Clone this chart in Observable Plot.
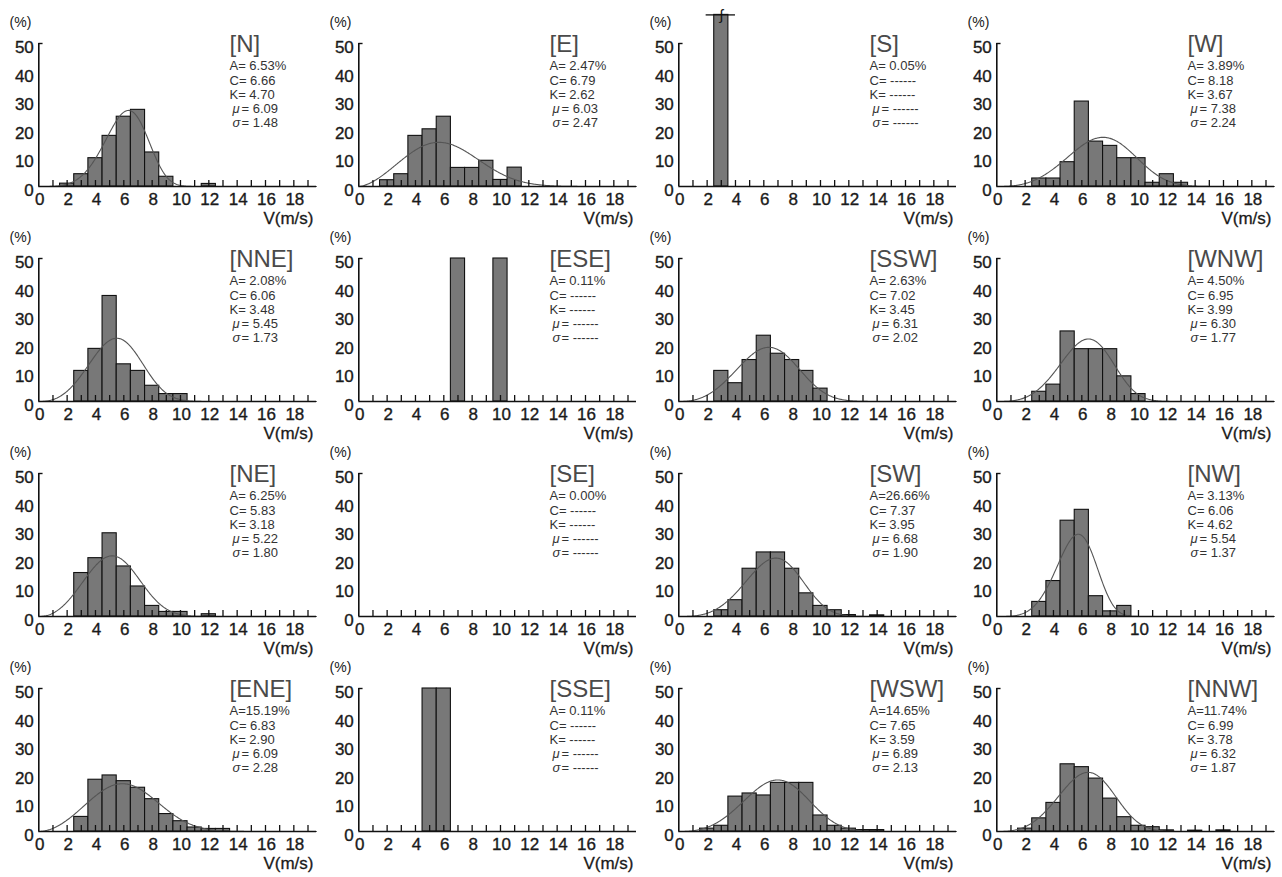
<!DOCTYPE html>
<html>
<head>
<meta charset="utf-8">
<script src="https://cdn.jsdelivr.net/npm/d3@7"></script>
<script src="https://cdn.jsdelivr.net/npm/@observablehq/plot@0.6"></script>
<style>
  html, body { margin: 0; padding: 0; background: #fff; }
  #wrap { position: relative; width: 1282px; height: 877px; overflow: hidden; }
  .panel { position: absolute; }
  .panel svg { overflow: visible; }
</style>
</head>
<body>
<div id="wrap"></div>
<script>
// ---- data (panel order: row by row, left to right) ----
const directions = ["N","E","S","W","NNE","ESE","SSW","WNW","NE","SE","SW","NW","ENE","SSE","WSW","NNW"];
// frequency (%) per 1 m/s bin, bin centres 1,2,3,...
const binCenters = [1,2,3,4,5,6,7,8,9,10,11,12,13,14,15,16,17,18,19];
const freqN   = [0, 1.0, 4.3, 9.9, 17.7, 24.4, 26.8, 11.9, 3.4, 0, 0, 0.9];
const freqE   = [0, 2.2, 4.3, 17.7, 20.0, 24.4, 6.5, 6.5, 9.0, 2.3, 6.6];
const freqS   = [0, 0, 100];
const freqW   = [0, 0, 2.8, 2.8, 8.5, 29.7, 15.7, 14.2, 9.9, 9.9, 1.3, 4.3, 1.3];
const freqNNE = [0, 0, 10.7, 18.4, 36.9, 13.0, 10.7, 5.5, 2.6, 2.6];
const freqESE = [0, 0, 0, 0, 0, 0, 50, 0, 0, 50];
const freqSSW = [0, 0, 10.7, 6.4, 14.5, 23.0, 16.7, 14.5, 10.7, 4.5];
const freqWNW = [0, 0, 3.4, 5.9, 24.5, 18.3, 18.3, 18.3, 8.8, 2.6];
const freqNE  = [0, 0, 15.2, 20.4, 29.1, 17.5, 10.5, 3.7, 1.6, 1.6, 0, 0.8];
const freqSE  = [];
const freqSW  = [0, 0, 2.2, 5.7, 16.7, 22.4, 22.4, 16.7, 8.1, 3.7, 2.2, 0.5, 0, 0.4];
const freqNW  = [0, 0, 5.1, 12.4, 33.5, 37.3, 7.1, 1.8, 3.7];
const freqENE = [0, 0, 5.1, 18.1, 19.6, 17.6, 15.3, 11.3, 6.1, 3.6, 1.4, 0.9, 0.9];
const freqSSE = [0, 0, 0, 0, 50, 50];
const freqWSW = [0, 1.0, 2.0, 12.2, 13.3, 12.6, 17.0, 17.0, 17.0, 5.6, 2.0, 1.0, 0.5, 0.5];
const freqNNW = [0, 1.0, 4.6, 10.0, 23.5, 22.5, 18.5, 11.5, 5.0, 2.0, 1.5, 0.4, 0, 0.3, 0, 0.4];
const freqs = [freqN, freqE, freqS, freqW, freqNNE, freqESE, freqSSW, freqWNW,
               freqNE, freqSE, freqSW, freqNW, freqENE, freqSSE, freqWSW, freqNNW];

// Weibull / statistics labels
const paramA  = ["6.53%","2.47%","0.05%","3.89%","2.08%","0.11%","2.63%","4.50%",
                 "6.25%","0.00%","26.66%","3.13%","15.19%","0.11%","14.65%","11.74%"];
const paramC  = [6.66, 6.79, null, 8.18, 6.06, null, 7.02, 6.95, 5.83, null, 7.37, 6.06, 6.83, null, 7.65, 6.99];
const paramK  = [4.70, 2.62, null, 3.67, 3.48, null, 3.45, 3.99, 3.18, null, 3.95, 4.62, 2.90, null, 3.59, 3.78];
const paramMu = [6.09, 6.03, null, 7.38, 5.45, null, 6.31, 6.30, 5.22, null, 6.68, 5.54, 6.09, null, 6.89, 6.32];
const paramSd = [1.48, 2.47, null, 2.24, 1.73, null, 2.02, 1.77, 1.80, null, 1.90, 1.37, 2.28, null, 2.13, 1.87];

const yTicks = [0, 10, 20, 30, 40, 50];
const xTickLabels = [0, 2, 4, 6, 8, 10, 12, 14, 16, 18];
const xMinorTicks = [1,2,3,4,5,6,7,8,9,10,11,12,13,14,15,16,17,18,19];
const xLabel = "V(m/s)";
const yLabel = "(%)";
const dash = "------";

// ---- layout ----
const colLeft = [0, 320, 639.5, 958];
const rowTop = [0, 215, 430, 645];
const W = 320, H = 215;
const mL = 38.3, mR = 4, mT = 14.4, mB = 29;
const xMax = 19.6, yMax = 60;
const FONT = "'Liberation Sans', Arial, sans-serif";

const fmt2 = v => v.toFixed(2);

const wrap = document.getElementById("wrap");

directions.forEach((dir, i) => {
  const row = Math.floor(i / 4), col = i % 4;
  const f = freqs[i];
  const bars = f.map((p, j) => ({v: binCenters[j], p})).filter(d => d.p > 0);
  const c = paramC[i], k = paramK[i];
  const hasFit = c != null;
  const curve = hasFit
    ? d3.range(0, xMax + 0.0001, 0.05).map(x => ({x, y: 100 * (k / c) * Math.pow(x / c, k - 1) * Math.exp(-Math.pow(x / c, k))}))
    : [];
  const clipped = bars.filter(d => d.p > yMax);

  const lineTexts = [
    {t: "A=" + (paramA[i].length > 5 ? "" : " ") + paramA[i], g: null},
    {t: "C= " + (hasFit ? fmt2(c) : dash), g: null},
    {t: "K= " + (hasFit ? fmt2(k) : dash), g: null},
    {t: "= " + (hasFit ? fmt2(paramMu[i]) : dash), g: "μ"},
    {t: "= " + (hasFit ? fmt2(paramSd[i]) : dash), g: "σ"}
  ];

  const textMarks = [];
  lineTexts.forEach((ln, j) => {
    const dy = 51.3 + j * 14.2;
    const common = {frameAnchor: "top-left", dy, text: d => d, textAnchor: "start", lineAnchor: "middle",
      fontSize: 13, fill: "#333", fontFamily: FONT};
    if (ln.g) {
      textMarks.push(Plot.text([ln.g], {...common, dx: 232 - mL, fontStyle: "italic"}));
      textMarks.push(Plot.text([ln.t], {...common, dx: 241 - mL}));
    } else {
      textMarks.push(Plot.text([ln.t], {...common, dx: 229 - mL}));
    }
  });

  const tickFont = {fontSize: 17, fill: "#1a1a1a", stroke: "#1a1a1a", strokeWidth: 0.35, fontFamily: FONT, lineAnchor: "middle"};

  const chart = Plot.plot({
    width: W, height: H,
    marginLeft: mL, marginRight: mR, marginTop: mT, marginBottom: mB,
    x: {domain: [0, xMax], axis: null},
    y: {domain: [0, yMax], clamp: true, axis: null},
    style: {background: "transparent", overflow: "visible", fontFamily: FONT},
    marks: [
      Plot.rectY(bars, {x1: d => d.v - 0.5, x2: d => d.v + 0.5, y: "p", fill: "#787878", stroke: "#111", strokeWidth: 1.1}),
      // break mark for clipped bars
      Plot.ruleY(clipped, {y: yMax, x1: d => d.v - 1.07, x2: d => d.v + 1, stroke: "#111", strokeWidth: 1.3}),
      Plot.text(clipped, {x: "v", y: yMax, text: () => "ʃ", fontSize: 15, fill: "#111", lineAnchor: "middle", fontFamily: FONT}),
      Plot.line(curve, {x: "x", y: "y", stroke: "#555", strokeWidth: 1.1}),
      // axes
      Plot.ruleY([0], {x1: 0, x2: xMax, stroke: "#111", strokeWidth: 1.6}),
      Plot.ruleX([0], {y1: 0, y2: 50, stroke: "#111", strokeWidth: 1.6}),
      Plot.ruleY([50], {x1: 0, x2: 0.3, stroke: "#111", strokeWidth: 1.4}),
      Plot.ruleX(xMinorTicks, {x: d => d, y1: 0, y2: 2.1, stroke: "#111", strokeWidth: 1.3}),
      Plot.text(yTicks, {...tickFont, x: 0, y: d => d, text: d => String(d), textAnchor: "end", dx: -5, dy: 4}),
      Plot.text(xTickLabels, {...tickFont, x: d => d, y: 0, text: d => String(d), dx: 1, dy: 13.5}),
      Plot.text([yLabel], {frameAnchor: "top-left", dx: -18.3, dy: 7.3, text: d => d, textAnchor: "middle",
        lineAnchor: "middle", fontSize: 14, fill: "#1a1a1a", fontFamily: FONT}),
      Plot.text([xLabel], {frameAnchor: "bottom-right", dx: -3, dy: 32, text: d => d, textAnchor: "end",
        lineAnchor: "middle", fontSize: 17, fill: "#1a1a1a", stroke: "#1a1a1a", strokeWidth: 0.3, fontFamily: FONT, letterSpacing: 1.5}),
      Plot.text(["[" + dir + "]"], {frameAnchor: "top-left", dx: 229 - mL, dy: 29.6, text: d => d, textAnchor: "start",
        lineAnchor: "middle", fontSize: 24, fill: "#4a4a4a", fontFamily: FONT}),
      ...textMarks
    ]
  });
  const div = document.createElement("div");
  div.className = "panel";
  div.style.left = colLeft[col] + "px";
  div.style.top = rowTop[row] + "px";
  div.appendChild(chart);
  wrap.appendChild(div);
});
</script>
</body>
</html>
